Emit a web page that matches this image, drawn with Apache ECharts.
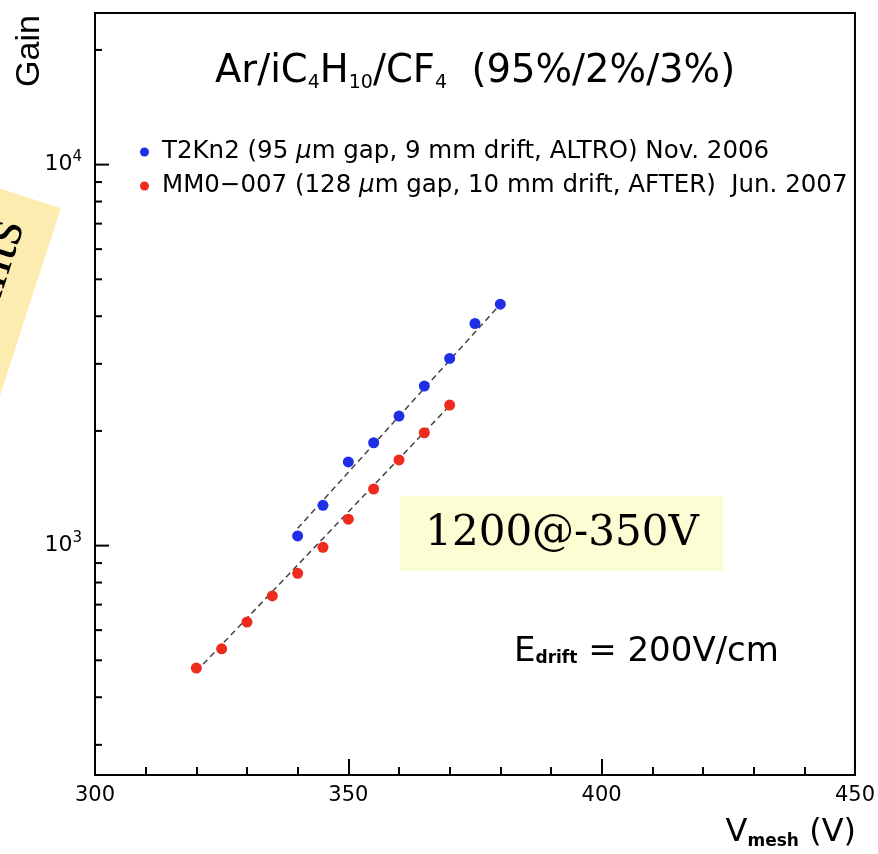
<!DOCTYPE html>
<html><head><meta charset="utf-8">
<script src="https://cdn.jsdelivr.net/npm/echarts@6/dist/echarts.min.js"></script>
<style>html,body{margin:0;padding:0;background:#fff}#c{width:878px;height:854px}</style>
</head><body><div id="c"></div>
<script>
// ---- data ----
const t2kVoltage = [340, 345, 350, 355, 360, 365, 370, 375, 380];
const t2kGain    = [1060, 1276, 1658, 1862, 2188, 2623, 3099, 3828, 4302];
const mm0Voltage = [320, 325, 330, 335, 340, 345, 350, 355, 360, 365, 370];
const mm0Gain    = [477, 536, 630, 738, 846, 990, 1173, 1408, 1678, 1978, 2339];
const t2kFitVoltage = [340, 380];
const t2kFitGain    = [1110, 4300];
const mm0FitVoltage = [320, 370];
const mm0FitGain    = [468, 2330];
const xTickLabels = [300, 350, 400, 450];
const yMajorTicks = [1000, 10000];
const yMinorTicks = [300, 400, 500, 600, 700, 800, 900, 2000, 3000, 4000, 5000, 6000, 7000, 8000, 9000, 20000];
const seriesNames = [
  'T2Kn2 (95 μm gap, 9 mm drift, ALTRO) Nov. 2006',
  'MM0−007 (128 μm gap, 10 mm drift, AFTER)  Jun. 2007'
];

const pair = (xs, ys) => xs.map((x, i) => [x, ys[i]]);
const X_MIN = xTickLabels[0], X_MAX = xTickLabels[xTickLabels.length - 1];
const SANS = 'DejaVu Sans';

function tickSeries(values, len) {
  return {
    type: 'custom', silent: true, clip: false, z: 5,
    data: values.map(v => [X_MIN, v]),
    renderItem: (params, api) => {
      const p = api.coord([api.value(0), api.value(1)]);
      return { type: 'line', shape: { x1: p[0], y1: p[1], x2: p[0] + len, y2: p[1] },
               style: { stroke: '#000', lineWidth: 2 } };
    }
  };
}

const chart = echarts.init(document.getElementById('c'), null, { renderer: 'canvas' });
chart.setOption({
  animation: false,
  backgroundColor: '#fff',
  grid: { left: 95, right: 21, top: 13, bottom: 79, show: true, borderColor: '#000', borderWidth: 2, backgroundColor: 'transparent' },
  xAxis: {
    type: 'value', min: X_MIN, max: X_MAX, interval: 50,
    axisLine: { lineStyle: { color: '#000', width: 2 } },
    axisTick: { inside: true, length: 16, lineStyle: { color: '#000', width: 2 } },
    minorTick: { show: true, splitNumber: 5, length: 8, lineStyle: { color: '#000', width: 2 } },
    splitLine: { show: false },
    axisLabel: { color: '#000', fontSize: 21, fontFamily: SANS, margin: 10 }
  },
  yAxis: {
    type: 'log', logBase: 10, min: 250, max: 25000,
    axisLine: { show: true, lineStyle: { color: '#000', width: 2 } },
    axisTick: { show: false },
    splitLine: { show: false },
    axisLabel: {
      showMinLabel: false, showMaxLabel: false, margin: 13,
      formatter: v => {
        const e = Math.round(Math.log10(v));
        return Math.abs(Math.pow(10, e) - v) < 1e-6 * v ? '{b|10}{s|' + e + '}' : '';
      },
      rich: {
        b: { fontSize: 22, fontFamily: SANS, color: '#000', lineHeight: 31 },
        s: { fontSize: 15, fontFamily: SANS, color: '#000', lineHeight: 15, verticalAlign: 'top' }
      }
    }
  },
  legend: {
    data: seriesNames, orient: 'vertical', left: 140, top: 135, padding: 0,
    itemWidth: 9, itemHeight: 9, itemGap: 0,
    formatter: n => n.replace('μ', '{m|μ}'),
    textStyle: { fontSize: 24.5, fontFamily: SANS, color: '#000', lineHeight: 34, padding: [0, 0, 0, 8],
      rich: { m: { fontSize: 24.5, fontFamily: SANS, fontStyle: 'italic', color: '#000', lineHeight: 34 } } }
  },
  series: [
    { type: 'line', data: pair(t2kFitVoltage, t2kFitGain), symbol: 'none', silent: true, z: 2,
      lineStyle: { color: '#444', width: 1.5, type: [6, 4] } },
    { type: 'line', data: pair(mm0FitVoltage, mm0FitGain), symbol: 'none', silent: true, z: 2,
      lineStyle: { color: '#444', width: 1.5, type: [6, 4] } },
    { name: seriesNames[0], type: 'scatter', data: pair(t2kVoltage, t2kGain), symbol: 'circle', symbolSize: 11, z: 3,
      itemStyle: { color: '#1f2fe6', opacity: 1 } },
    { name: seriesNames[1], type: 'scatter', data: pair(mm0Voltage, mm0Gain), symbol: 'circle', symbolSize: 11, z: 3,
      itemStyle: { color: '#ee2b1c', opacity: 1 } },
    tickSeries(yMajorTicks, 14),
    tickSeries(yMinorTicks, 7)
  ],
  graphic: [
    { type: 'text', x: 215, y: 72, z: 10, style: {
        text: '{n|Ar/iC}{s|4}{n|H}{s|10}{n|/CF}{s|4}{n|  (95%/2%/3%)}',
        textVerticalAlign: 'middle',
        rich: {
          n: { fontSize: 38.5, fontFamily: SANS, fill: '#000', lineHeight: 42 },
          s: { fontSize: 19, fontFamily: SANS, fill: '#000', lineHeight: 19, verticalAlign: 'bottom' }
        } } },
    { type: 'text', x: 30, y: 51, rotation: Math.PI / 2, z: 10, style: {
        text: 'Gain', fontSize: 34, fontFamily: 'Liberation Sans', fill: '#000',
        textAlign: 'center', textVerticalAlign: 'middle' } },
    { type: 'text', x: 856, y: 833, z: 10, style: {
        text: '{V|V}{m|mesh}{V| (V)}', textAlign: 'right', textVerticalAlign: 'middle',
        rich: {
          V: { fontSize: 32, fontFamily: SANS, fill: '#000', lineHeight: 34 },
          m: { fontSize: 17, fontFamily: SANS, fontWeight: 'bold', fill: '#000', lineHeight: 17, verticalAlign: 'bottom' }
        } } },
    { type: 'rect', shape: { x: 400, y: 496, width: 323, height: 75 }, z: 9,
      style: { fill: '#fdfdd3' } },
    { type: 'text', x: 562, y: 534, z: 10, style: {
        text: '1200@-350V', fontSize: 42, fontFamily: 'DejaVu Serif', fill: '#000',
        textAlign: 'center', textVerticalAlign: 'middle' } },
    { type: 'text', x: 514, y: 652, z: 10, style: {
        text: '{E|E}{d|drift}{E| = 200V/cm}', textVerticalAlign: 'middle',
        rich: {
          E: { fontSize: 34, fontFamily: SANS, fill: '#000', lineHeight: 30 },
          d: { fontSize: 17, fontFamily: SANS, fontWeight: 'bold', fill: '#000', lineHeight: 17, verticalAlign: 'bottom' }
        } } },
    { type: 'group', x: 31.5, y: 298.5, rotation: 72 * Math.PI / 180, z: 8, children: [
        { type: 'rect', shape: { x: -300, y: -90, width: 395, height: 90 }, style: { fill: '#fdecb0' } },
        { type: 'text', x: 67, y: -16, style: { text: 'ants', fontSize: 58, fontFamily: 'Liberation Serif',
            fill: '#000', textAlign: 'right', textVerticalAlign: 'bottom' } }
    ] }
  ]
});
</script></body></html>
